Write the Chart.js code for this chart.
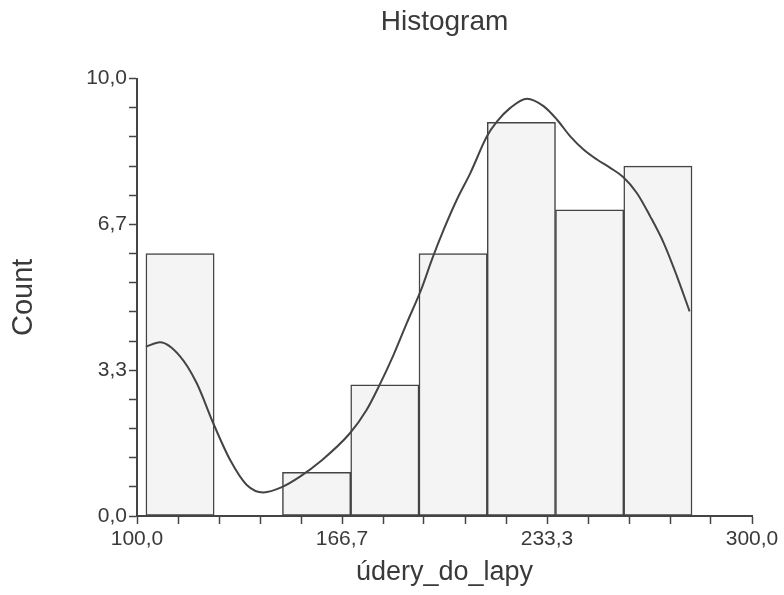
<!DOCTYPE html>
<html>
<head>
<meta charset="utf-8">
<title>Histogram</title>
<script src="https://cdn.jsdelivr.net/npm/chart.js@4.4.1/dist/chart.umd.min.js"></script>
<style>
  body { margin: 0; background: #fff; }
  #wrap { width: 784px; height: 595px; }
</style>
</head>
<body>
<div id="wrap"><canvas id="histChart" width="784" height="595"></canvas></div>
<script>
// bins of údery_do_lapy and their counts
var binEdges = [102.9, 125.1, 147.3, 169.5, 191.7, 213.9, 236.1, 258.3, 280.5];
var binCounts = [6, 0, 1, 3, 6, 9, 7, 8];

// smoothed density curve, scaled to counts
var curveX = [102.9, 107.5, 114.0, 119.4, 124.8, 130.3, 135.7, 141.1, 147.1, 153.0, 159.5,
              169.1, 174.7, 178.7, 183.4, 187.8, 192.6, 195.9, 199.7, 204.0, 208.4, 213.8,
              217.1, 221.4, 226.8, 232.2, 236.6, 240.9, 245.2, 249.6, 253.9, 258.1, 262.6,
              266.9, 271.3, 275.6, 279.7];
var curveY = [3.87, 3.97, 3.65, 3.04, 2.12, 1.28, 0.71, 0.54, 0.66, 0.90, 1.24,
              1.88, 2.43, 2.97, 3.68, 4.42, 5.21, 5.86, 6.54, 7.23, 7.84, 8.68,
              9.02, 9.33, 9.54, 9.37, 9.06, 8.68, 8.38, 8.15, 7.96, 7.75, 7.38,
              6.85, 6.24, 5.48, 4.68];

// axes
var xRange = [100, 300];
var xTickLabels = ["100,0", "166,7", "233,3", "300,0"];
var yRange = [0, 10];
var yTickLabels = ["0,0", "3,3", "6,7", "10,0"];
var minorPerMajor = 5;

var ink = "#444444";
var textColor = "#3a3a3a";
var fontFamily = "'Liberation Sans', Arial, sans-serif";

var barData = [];
for (var i = 0; i < binCounts.length; i++) {
  barData.push({ x: (binEdges[i] + binEdges[i + 1]) / 2, y: binCounts[i] });
}
var curveData = [];
for (var j = 0; j < curveX.length; j++) {
  curveData.push({ x: curveX[j], y: curveY[j] });
}

// major ticks carry the labels, minor ticks in between are unlabeled
function buildTicks(range, labels) {
  return function(scale) {
    var n = (labels.length - 1) * minorPerMajor;
    var ticks = [];
    for (var k = 0; k <= n; k++) {
      ticks.push({ value: range[0] + k * (range[1] - range[0]) / n });
    }
    scale.ticks = ticks;
  };
}
function tickLabel(labels) {
  return function(value, index) {
    return index % minorPerMajor === 0 ? labels[index / minorPerMajor] : "";
  };
}

var ctx = document.getElementById("histChart");

var myChart = new Chart(ctx, {
  type: "bar",
  data: {
    datasets: [
      {
        type: "line",
        label: "density",
        data: curveData,
        borderColor: ink,
        borderWidth: 2,
        pointRadius: 0,
        fill: false,
        cubicInterpolationMode: "monotone",
        order: 0
      },
      {
        label: "Count",
        data: barData,
        xAxisID: "xBins",
        backgroundColor: "#f4f4f4",
        borderColor: ink,
        borderWidth: 1.5,
        borderSkipped: false,
        grouped: false,
        barPercentage: 1,
        categoryPercentage: 1,
        order: 1
      }
    ]
  },
  options: {
    responsive: false,
    animation: false,
    layout: { padding: { left: 0, right: 32, top: 0, bottom: 0 } },
    plugins: {
      legend: { display: false },
      tooltip: { enabled: false },
      title: {
        display: true,
        text: "Histogram",
        fullSize: false,
        color: textColor,
        font: { family: fontFamily, size: 28, weight: "normal" },
        padding: { top: 5, bottom: 40 }
      }
    },
    scales: {
      x: {
        type: "linear",
        min: xRange[0],
        max: xRange[1],
        offset: false,
        afterBuildTicks: buildTicks(xRange, xTickLabels),
        afterFit: function(scale) { scale.height = 79; },
        grid: {
          display: true,
          drawOnChartArea: false,
          drawTicks: true,
          tickLength: 8,
          tickWidth: 1.5,
          tickColor: ink,
          offset: false
        },
        border: { display: true, color: ink, width: 2 },
        ticks: {
          autoSkip: false,
          maxRotation: 0,
          padding: 3,
          color: textColor,
          font: { family: fontFamily, size: 21 },
          callback: tickLabel(xTickLabels)
        },
        title: {
          display: true,
          text: "údery_do_lapy",
          color: textColor,
          font: { family: fontFamily, size: 27 },
          padding: { top: 0, bottom: 6 }
        }
      },
      // hidden axis for the bars, ticked at the bin edges so each bar spans one bin
      xBins: {
        type: "linear",
        display: false,
        min: xRange[0],
        max: xRange[1],
        offset: false,
        afterBuildTicks: function(scale) {
          scale.ticks = binEdges.map(function(v) { return { value: v }; });
        }
      },
      y: {
        min: yRange[0],
        max: yRange[1],
        afterBuildTicks: buildTicks(yRange, yTickLabels),
        afterFit: function(scale) { scale.width = 137; },
        grid: {
          display: true,
          drawOnChartArea: false,
          drawTicks: true,
          tickLength: 8,
          tickWidth: 1.5,
          tickColor: ink
        },
        border: { display: true, color: ink, width: 2 },
        ticks: {
          autoSkip: false,
          padding: 2,
          color: textColor,
          font: { family: fontFamily, size: 21 },
          callback: tickLabel(yTickLabels)
        },
        title: {
          display: true,
          text: "Count",
          color: textColor,
          font: { family: fontFamily, size: 29 },
          padding: { top: 7, bottom: 0 }
        }
      }
    }
  }
});
</script>
</body>
</html>
